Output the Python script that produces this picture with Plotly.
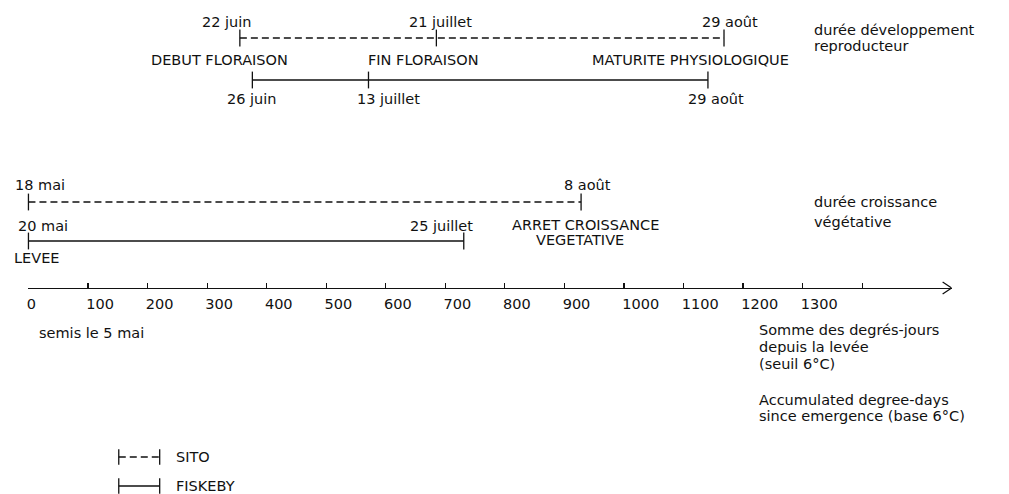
import plotly.graph_objects as go

# ---------------- data (degree-days since emergence, base 6°C) ----------------
tick_values = [0, 100, 200, 300, 400, 500, 600, 700, 800, 900, 1000, 1100, 1200, 1300, 1400]
tick_labels = ["0", "100", "200", "300", "400", "500", "600", "700", "800", "900",
               "1000", "1100", "1200", "1300", ""]

varieties = ["SITO", "FISKEBY"]

repro_stages = ["DEBUT FLORAISON", "FIN FLORAISON", "MATURITE PHYSIOLOGIQUE"]
sito_repro_dd = [355, 685, 1168]
sito_repro_dates = ["22 juin", "21 juillet", "29 août"]
fisk_repro_dd = [376, 571, 1141]
fisk_repro_dates = ["26 juin", "13 juillet", "29 août"]

veg_stages = ["LEVEE", "ARRET CROISSANCE", "VEGETATIVE"]
sito_veg_dd = [0, 928]
sito_veg_dates = ["18 mai", "8 août"]
fisk_veg_dd = [0, 731]
fisk_veg_dates = ["20 mai", "25 juillet"]

# ---------------- layout constants ----------------
W, H = 1009, 494
X0_PX = 26.5
PX_PER_UNIT = 0.5967
X1_PX = 951.5
AXIS_MAX = (X1_PX - X0_PX) / PX_PER_UNIT
AXIS_Y = 288
FONT = "DejaVu Sans"
FS = 14.5
BLACK = "#111111"

ROW_SITO_REPRO, ROW_FISK_REPRO = 38, 80
ROW_SITO_VEG, ROW_FISK_VEG = 202, 241


def px2val(px):
    return (px - X0_PX) / PX_PER_UNIT


fig = go.Figure()


def bar(xs, row, dash):
    fig.add_trace(go.Scatter(
        x=xs, y=[row] * len(xs), mode="lines+markers",
        line=dict(color=BLACK, width=1.3, dash=dash),
        marker=dict(symbol="line-ns", size=12, line=dict(color=BLACK, width=1.3)),
        showlegend=False, hoverinfo="skip", cliponaxis=False,
    ))


DASH = "7px,4px"
bar(sito_repro_dd, ROW_SITO_REPRO, DASH)
bar(fisk_repro_dd, ROW_FISK_REPRO, "solid")
bar(sito_veg_dd, ROW_SITO_VEG, DASH)
bar(fisk_veg_dd, ROW_FISK_VEG, "solid")

annotations = []


def txt(s, xpx, ypx, anchor="left", size=FS):
    annotations.append(dict(
        text=s, x=xpx / W, y=1 - ypx / H, xref="paper", yref="paper",
        xanchor=anchor, yanchor="middle", showarrow=False,
        font=dict(family=FONT, size=size, color=BLACK)))


def date_labels(vals, dates, ypx, shifts):
    for v, d, sh in zip(vals, dates, shifts):
        annotations.append(dict(
            text=d, x=v, y=ypx, xref="x", yref="y", xanchor="center", yanchor="middle",
            xshift=sh, showarrow=False, font=dict(family=FONT, size=FS, color=BLACK)))


date_labels(sito_repro_dd, sito_repro_dates, 22, [-13, 4, 6])
date_labels(fisk_repro_dd, fisk_repro_dates, 99, [0, 20, 8])
date_labels(sito_veg_dd, sito_veg_dates, 185, [12, 6])
date_labels(fisk_veg_dd, fisk_veg_dates, 226, [15, -22])

# stage names
txt(repro_stages[0], 218, 60, "center")
txt(repro_stages[1], 422, 60, "center")
txt(repro_stages[2], 690, 60, "center")
txt(veg_stages[0], 10, 258, "left")
txt(veg_stages[1], 585, 225, "center")
txt(veg_stages[2], 579, 240, "center")

# right-hand captions
txt("durée développement", 812, 30)
txt("reproducteur", 812, 46)
txt("durée croissance", 812, 202)
txt("végétative", 812, 222)

# axis captions
txt("semis le 5 mai", 35, 333)
txt("Somme des degrés-jours", 757, 330)
txt("depuis la levée", 757, 347)
txt("(seuil 6°C)", 757, 364)
txt("Accumulated degree-days", 756, 400)
txt("since emergence (base 6°C)", 756, 416)

# legend
LEG_X = [117, 158]
for name, ypx, dash in [(varieties[0], 457, DASH), (varieties[1], 486, "solid")]:
    fig.add_trace(go.Scatter(
        x=[px2val(p) for p in LEG_X], y=[ypx, ypx], mode="lines+markers",
        line=dict(color=BLACK, width=1.3, dash=dash),
        marker=dict(symbol="line-ns", size=11, line=dict(color=BLACK, width=1.3)),
        showlegend=False, hoverinfo="skip", cliponaxis=False,
    ))
    txt(name, 172, ypx)

# arrow head at end of axis
ah_dx = 9 / PX_PER_UNIT
fig.add_shape(type="path", xref="x", yref="y",
              path=f"M {AXIS_MAX - ah_dx},{AXIS_Y - 6} L {AXIS_MAX},{AXIS_Y} L {AXIS_MAX - ah_dx},{AXIS_Y + 6}",
              line=dict(color=BLACK, width=1.3))

fig.update_layout(
    width=W, height=H, margin=dict(l=0, r=0, t=0, b=0),
    paper_bgcolor="white", plot_bgcolor="white",
    annotations=annotations, showlegend=False,
    xaxis=dict(
        domain=[X0_PX / W, X1_PX / W], range=[0, AXIS_MAX],
        anchor="free", position=1 - AXIS_Y / H,
        showline=True, linecolor=BLACK, linewidth=1.3,
        ticks="inside", ticklen=5, tickwidth=1.2, tickcolor=BLACK,
        tickmode="array", tickvals=tick_values, ticktext=tick_labels,
        ticklabelposition="outside right", ticklabelshift=-3, ticklabelstandoff=2,
        tickfont=dict(family=FONT, size=FS, color=BLACK),
        showgrid=False, zeroline=False, fixedrange=True,
    ),
    yaxis=dict(domain=[0, 1], range=[H, 0], visible=False, showgrid=False,
               zeroline=False, fixedrange=True),
)

fig.write_html("out.html", config={"displayModeBar": False, "staticPlot": True},
               post_script="document.body.style.margin='0';")
